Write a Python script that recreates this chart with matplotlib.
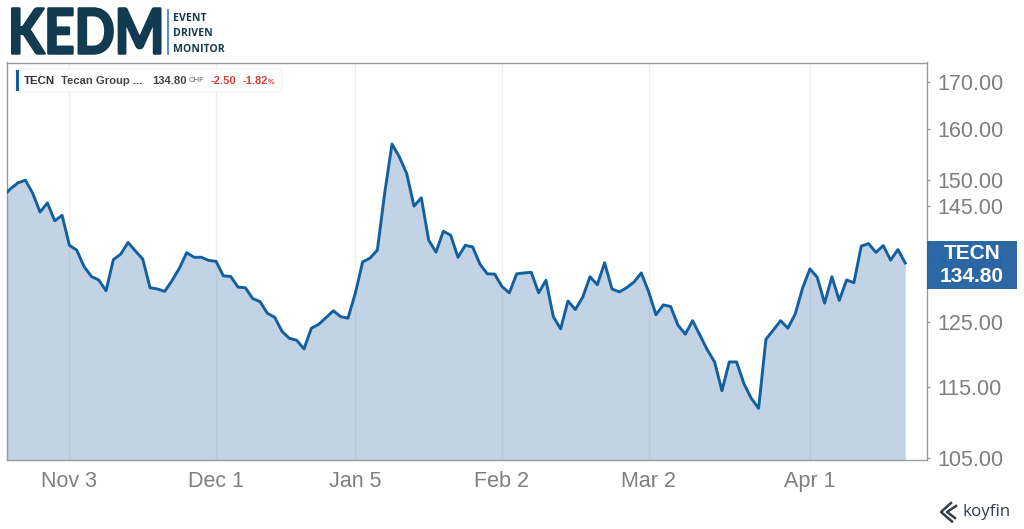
import matplotlib
matplotlib.use('Agg')
import matplotlib.pyplot as plt
import matplotlib.patheffects as pe
from matplotlib.patches import FancyBboxPatch, Rectangle
from matplotlib.lines import Line2D
from matplotlib.transforms import Affine2D

# Dados
prices = [146.9, 148.3, 149.4, 149.9, 147.4, 143.9, 145.6, 142.3, 143.3, 137.9,
          137.05, 134.2, 132.5, 131.9, 130.1, 135.4, 136.35, 138.4, 136.9, 135.5,
          130.6, 130.4, 130.0, 131.8, 133.9, 136.6, 135.8, 135.8, 135.25, 135.1,
          132.6, 132.5, 130.7, 130.6, 128.8, 128.3, 126.4, 125.75, 123.5, 122.4,
          122.1, 120.75, 124.0, 124.6, 125.7, 126.8, 125.85,
          125.6, 129.7, 135.0, 135.65, 137.05, 147.4, 157.0, 154.45, 151.2, 145.0,
          146.55, 138.8, 136.7, 140.4, 139.7, 135.8, 137.9, 137.6, 134.6, 132.95,
          132.9, 130.8, 129.75, 132.95, 133.1, 133.2, 129.75, 131.85, 125.85, 123.9,
          128.4, 127.0, 129.0, 132.45, 131.1, 134.85, 130.4, 129.9, 130.6, 131.55,
          133.1, 129.95, 126.15, 127.75, 127.5, 124.5,
          123.05, 125.2, 122.9, 120.6, 118.75, 114.45, 118.75, 118.75, 115.5, 113.35,
          111.9, 122.25, 123.7, 125.2, 124.0, 126.3, 130.55, 133.8, 132.35, 128.05,
          132.45, 128.5, 131.9, 131.45, 137.75, 138.2, 136.65, 137.85, 135.3, 137.15,
          134.8]
days = list(range(len(prices)))

date_pos = [9, 29, 48, 68, 88, 110]
date_labels = ['Nov 3', 'Dec 1', 'Jan 5', 'Feb 2', 'Mar 2', 'Apr 1']
price_ticks = [105, 115, 125, 135, 145, 150, 160, 170]

W, H = 1024, 529
LINE = '#14609f'
FILL = '#c2d3e5'
GRAY = '#7f7f7f'
NAVY = '#123a50'
SANS = 'Liberation Sans'

def fx(px):
    return px / W

def fy(py):
    return 1 - py / H

# Estica o texto na vertical e engrossa o traco (logotipo)
class TallBold(pe.AbstractPathEffect):
    def __init__(self, sy, lw):
        super().__init__()
        self.sy = sy
        self.lw = lw

    def draw_path(self, renderer, gc, tpath, affine, rgbFace=None):
        gc0 = renderer.new_gc()
        gc0.copy_properties(gc)
        gc0.set_linewidth(self.lw)
        gc0.set_foreground(NAVY)
        renderer.draw_path(gc0, tpath, Affine2D().scale(1, self.sy) + affine, rgbFace)
        gc0.restore()

fig = plt.figure(figsize=(W / 100, H / 100), dpi=100)
ax = fig.add_axes([fx(7), fy(460), (926.5 - 7) / W, (460 - 62.5) / H])

# Grafico de area
ax.set_yscale('log')
ax.set_xlim(0.49, 125.9)
ax.set_ylim(104.73, 174.3)
ax.fill_between(days, prices, 100, color=FILL, lw=0, zorder=2)
ax.plot(days, prices, color=LINE, lw=2.1, zorder=4)
for d in date_pos:
    ax.axvline(d, color='#8a8a8a', alpha=0.13, lw=1, zorder=3)

# Eixos
ax.set_xticks(date_pos)
ax.set_xticklabels(date_labels, family=SANS, fontsize=15.5, color=GRAY)
ax.tick_params(axis='x', length=0, pad=8)
ax.set_yticks(price_ticks)
ax.set_yticklabels(['%.2f' % v for v in price_ticks], family=SANS, fontsize=15.5, color=GRAY)
ax.minorticks_off()
ax.yaxis.tick_right()
ax.tick_params(axis='y', length=2, width=1, color='#999999', pad=5.5)
for s in ax.spines.values():
    s.set_color('#999999')
    s.set_linewidth(1)

# Etiqueta do preco
fig.patches.append(Rectangle((fx(927), fy(288.5)), 90 / W, 48 / H, transform=fig.transFigure,
                             facecolor='#2765a2', edgecolor='none', alpha=0.98, zorder=5))
fig.text(fx(972), fy(254), 'TECN', family=SANS, fontsize=15, weight='bold', color='white',
         ha='center', va='center', zorder=6)
fig.text(fx(972), fy(276), '134.80', family=SANS, fontsize=15, weight='bold', color='white',
         ha='center', va='center', zorder=6)

# Caixa da legenda
fig.patches.append(FancyBboxPatch((fx(15), fy(92)), 267 / W, 23 / H, transform=fig.transFigure,
                                  boxstyle='round,pad=0,rounding_size=0.004', facecolor='white',
                                  edgecolor='#efefef', lw=0.8, zorder=5))
fig.patches.append(Rectangle((fx(15.5), fy(91)), 3 / W, 21 / H, transform=fig.transFigure,
                             facecolor=LINE, edgecolor='none', zorder=6))
legend_y = fy(81)
fig.text(fx(24), legend_y, 'TECN', family=SANS, fontsize=8.2, weight='bold', color='#333333', va='center', zorder=6)
fig.text(fx(61), legend_y, 'Tecan Group ...', family=SANS, fontsize=8.1, weight='bold', color='#444444', va='center', zorder=6)
fig.text(fx(152), legend_y, '134.80', family=SANS, fontsize=8.1, weight='bold', color='#444444', va='center', zorder=6)
fig.text(fx(188.5), legend_y, 'CHF', family=SANS, fontsize=5.6, color='#666666', va='center', zorder=6)
fig.text(fx(210.5), legend_y, '-2.50', family=SANS, fontsize=8, weight='bold', color='#d9403a', va='center', zorder=6)
fig.text(fx(243), legend_y, '-1.82', family=SANS, fontsize=8, weight='bold', color='#d9403a', va='center', zorder=6)
fig.text(fx(268), legend_y - 0.002, '%', family=SANS, fontsize=5.2, weight='bold', color='#d9403a', va='center', zorder=6)

# Logotipo KEDM
kedm = fig.text(fx(8), fy(53.5), 'KEDM', family='Lato', fontsize=38, weight='bold', color=NAVY, va='baseline')
kedm.set_path_effects([TallBold(1.18, 1.8)])
fig.add_artist(Line2D([fx(168), fx(168)], [fy(10), fy(54)], color='#4f86b8', lw=1.3))
for word, py in zip(['EVENT', 'DRIVEN', 'MONITOR'], [21, 36, 52]):
    fig.text(fx(173), fy(py), word, family='Open Sans', fontsize=7.6, weight='bold', color=NAVY, va='baseline')

# Logotipo koyfin
fig.add_artist(Line2D([fx(951), fx(941), fx(952)], [fy(503), fy(512), fy(521.5)], color='#333f48', lw=1.8))
fig.add_artist(Line2D([fx(956), fx(947), fx(955)], [fy(506), fy(512), fy(518)], color='#333f48', lw=1.8))
fig.text(fx(962), fy(516), 'koyfin', family='Open Sans', fontsize=12.2, color='#333f48', va='baseline')

plt.savefig('out.png', dpi=100)
